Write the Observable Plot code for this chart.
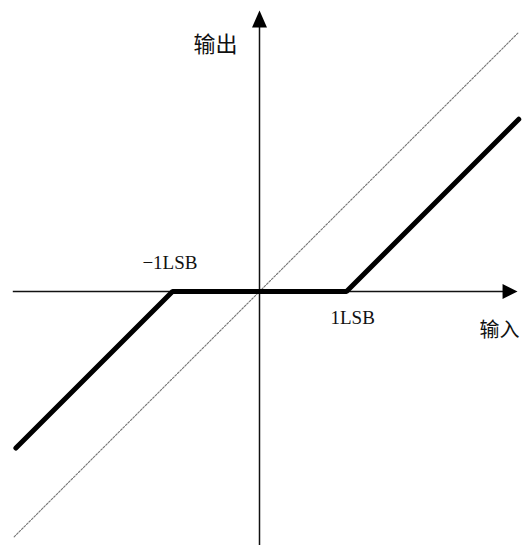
<!DOCTYPE html>
<html>
<head>
<meta charset="utf-8">
<script src="https://cdn.jsdelivr.net/npm/d3@7"></script>
<script src="https://cdn.jsdelivr.net/npm/@observablehq/plot@0.6"></script>
<style>
  html, body { margin: 0; padding: 0; background: #fff; }
  #chart svg { display: block; }
</style>
</head>
<body>
<div id="chart"></div>
<script>
// Transfer characteristic (units of LSB)
const inputLSB  = [-2.8, -1, 1, 2.98];
const outputLSB = [-1.8,  0, 0, 1.98];
// Ideal (dotted) y = x reference line
const idealIn  = [-2.82, 2.97];
const idealOut = [-2.82, 2.97];
// Axis extents
const xAxisExtent = [-2.83, 2.9];
const yAxisExtent = [-2.95, 3.1];
const xArrowTip = [2.966, 0];
const yArrowTip = [0, 3.23];
// Labels
const labelTexts = ["输出", "输入", "−1LSB", "1LSB"];
const labelX = [-0.506, 2.759, -0.713, 0.816];
const labelY = [2.839, -0.448, 0.253, -0.379];

const transfer = inputLSB.map((x, i) => ({x, y: outputLSB[i]}));
const ideal = idealIn.map((x, i) => ({x, y: idealOut[i]}));

const triangle = {
  draw(context, l) {
    context.moveTo(0, -l);
    context.lineTo(-7.5, 0);
    context.lineTo(7.5, 0);
    context.closePath();
  }
};

const cjk = "'Noto Sans CJK SC', sans-serif";
const serif = "'Liberation Serif', 'Times New Roman', serif";

const chart = Plot.plot({
  width: 527,
  height: 545,
  margin: 0,
  style: {background: "#fff"},
  x: {domain: [-259 / 87, 268 / 87], axis: null},
  y: {domain: [-254 / 87, 291 / 87], axis: null},
  marks: [
    Plot.line(ideal, {x: "x", y: "y", stroke: "#777", strokeWidth: 1.1, strokeDasharray: "2,1.5"}),
    Plot.ruleY([0], {x1: xAxisExtent[0], x2: xAxisExtent[1], stroke: "#111", strokeWidth: 1.5}),
    Plot.ruleX([0], {y1: yAxisExtent[0], y2: yAxisExtent[1], stroke: "#111", strokeWidth: 1.5}),
    Plot.line(transfer, {x: "x", y: "y", stroke: "#000", strokeWidth: 5, strokeLinecap: "round", strokeLinejoin: "miter"}),
    Plot.vector([xArrowTip], {x: d => d[0], y: d => d[1], rotate: 90, length: 15, anchor: "end", shape: triangle, fill: "#000", stroke: "none"}),
    Plot.vector([yArrowTip], {x: d => d[0], y: d => d[1], rotate: 0, length: 17, anchor: "end", shape: triangle, fill: "#000", stroke: "none"}),
    Plot.text([0], {x: labelX[0], y: labelY[0], text: () => labelTexts[0], fontFamily: cjk, fontSize: 22, textAnchor: "middle", lineAnchor: "middle", fill: "#111", letterSpacing: 2}),
    Plot.text([1], {x: labelX[1], y: labelY[1], text: () => labelTexts[1], fontFamily: cjk, fontSize: 20, textAnchor: "middle", lineAnchor: "middle", fill: "#111"}),
    Plot.text([2], {x: labelX[2], y: labelY[2], text: () => labelTexts[2], fontFamily: serif, fontSize: 19, textAnchor: "end", lineAnchor: "bottom", fill: "#111"}),
    Plot.text([3], {x: labelX[3], y: labelY[3], text: () => labelTexts[3], fontFamily: serif, fontSize: 19, textAnchor: "start", lineAnchor: "bottom", fill: "#111"})
  ]
});
document.getElementById("chart").append(chart);
</script>
</body>
</html>
